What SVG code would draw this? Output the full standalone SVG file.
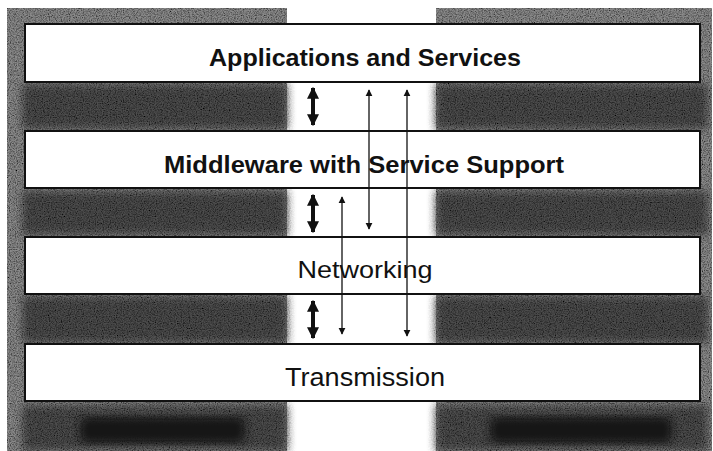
<svg xmlns="http://www.w3.org/2000/svg" width="713" height="451" viewBox="0 0 713 451">
<style>
.panel{fill:#8c8c8c}
.band{fill:#4e4e4e}
.bar{fill:#ffffff;stroke:#111;stroke-width:2}
.lbl{font-family:"Liberation Sans",Arial,sans-serif;fill:#111;text-anchor:middle}
.b{font-weight:bold}
.thin{stroke:#111;stroke-width:1.3;fill:none}
.thick{stroke:#111;stroke-width:4;fill:none}
.blob{fill:#151515}
</style>
<defs>
<filter id="grain" x="0" y="0" width="100%" height="100%">
<feTurbulence type="fractalNoise" baseFrequency="0.85" numOctaves="2" seed="7" result="n"/>
<feColorMatrix in="n" type="matrix" values="0 0 0 0 0  0 0 0 0 0  0 0 0 0 0  0 0 0 1.8 -0.6" result="dots"/>
<feComposite in="dots" in2="SourceGraphic" operator="in" result="d2"/>
<feMerge><feMergeNode in="SourceGraphic"/><feMergeNode in="d2"/></feMerge>
</filter>
<filter id="soft"><feGaussianBlur stdDeviation="4"/></filter>
<marker id="ah" viewBox="0 0 10 10" refX="9" refY="5" markerWidth="7" markerHeight="9" markerUnits="userSpaceOnUse" orient="auto-start-reverse">
<path d="M0,0 L10,5 L0,10 Z" fill="#111"/>
</marker>
<marker id="ahT" viewBox="0 0 10 10" refX="9" refY="5" markerWidth="12" markerHeight="13" markerUnits="userSpaceOnUse" orient="auto-start-reverse">
<path d="M0,0 L10,5 L0,10 Z" fill="#111"/>
</marker>
</defs>
<rect width="713" height="451" fill="#ffffff"/>
<g id="background" filter="url(#grain)">
<rect class="panel" x="7" y="8" width="280" height="443"/>
<rect class="panel" x="436" y="8" width="276" height="443"/>
<g filter="url(#soft)">
<rect class="band" x="22" y="84" width="265" height="45"/>
<rect class="band" x="22" y="191" width="265" height="44"/>
<rect class="band" x="22" y="296" width="265" height="47"/>
<rect class="band" x="436" y="84" width="272" height="45"/>
<rect class="band" x="436" y="191" width="272" height="44"/>
<rect class="band" x="436" y="296" width="272" height="47"/>
<rect class="band" x="22" y="405" width="265" height="46"/>
<rect class="band" x="436" y="405" width="272" height="46"/>
</g>
</g>
<g id="footer-marks">
<rect class="blob" x="80" y="417" width="165" height="26" rx="8" filter="url(#soft)"/>
<rect class="blob" x="490" y="417" width="182" height="26" rx="8" filter="url(#soft)"/>
</g>
<g id="applications">
<rect class="bar" x="25" y="24" width="675" height="58"/>
<text class="lbl b" x="365" y="66" font-size="23" textLength="312" lengthAdjust="spacingAndGlyphs">Applications and Services</text>
</g>
<g id="middleware">
<rect class="bar" x="25" y="131" width="675" height="57"/>
<text class="lbl b" x="364" y="173" font-size="24" textLength="400" lengthAdjust="spacingAndGlyphs">Middleware  with Service Support</text>
</g>
<g id="networking">
<rect class="bar" x="25" y="237" width="675" height="57"/>
<text class="lbl" x="365" y="278" font-size="24" textLength="135" lengthAdjust="spacingAndGlyphs">Networking</text>
</g>
<g id="transmission">
<rect class="bar" x="25" y="344" width="675" height="57"/>
<text class="lbl" x="365" y="386" font-size="25" textLength="160" lengthAdjust="spacingAndGlyphs">Transmission</text>
</g>
<g id="connectors">
<line class="thick" x1="313" y1="88" x2="313" y2="125" marker-start="url(#ahT)" marker-end="url(#ahT)"/>
<line class="thick" x1="313" y1="195" x2="313" y2="232" marker-start="url(#ahT)" marker-end="url(#ahT)"/>
<line class="thick" x1="313" y1="301" x2="313" y2="338" marker-start="url(#ahT)" marker-end="url(#ahT)"/>
<line class="thin" x1="369" y1="90" x2="369" y2="229" marker-start="url(#ah)" marker-end="url(#ah)"/>
<line class="thin" x1="407" y1="90" x2="407" y2="336" marker-start="url(#ah)" marker-end="url(#ah)"/>
<line class="thin" x1="342" y1="197" x2="342" y2="334" marker-start="url(#ah)" marker-end="url(#ah)"/>
</g>
</svg>
